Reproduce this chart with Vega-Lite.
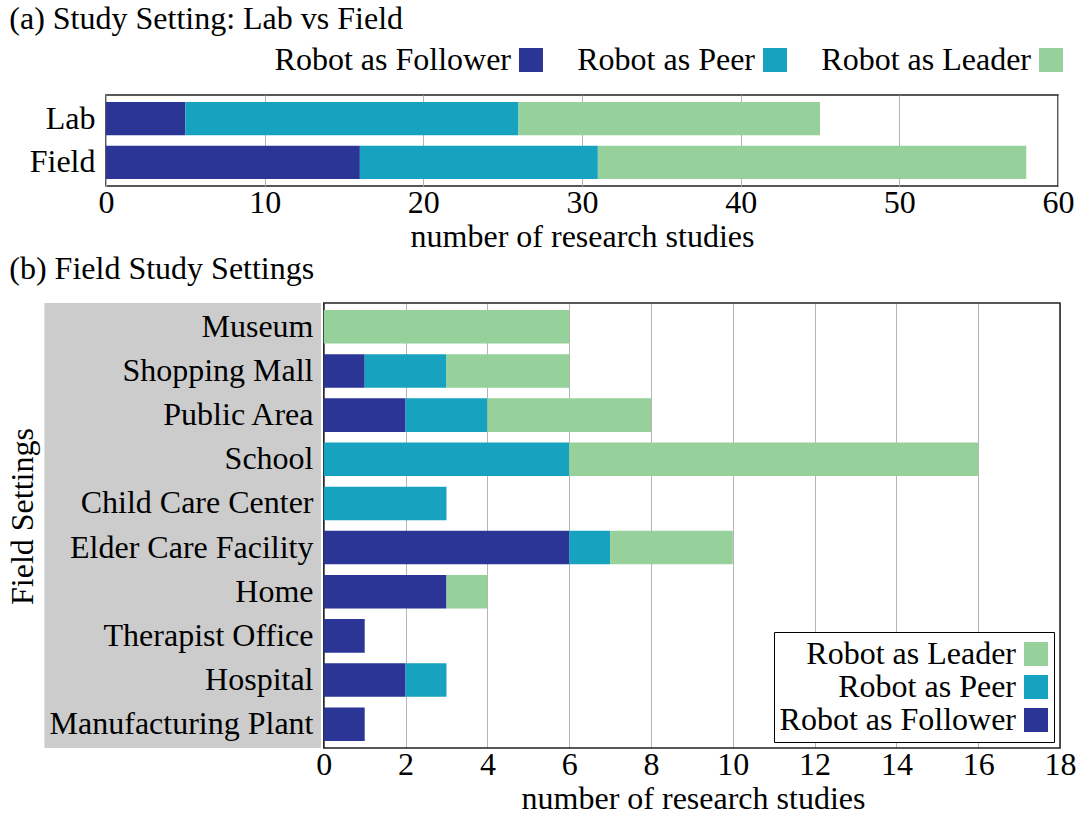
{
  "$schema": "https://vega.github.io/schema/vega-lite/v6.json",
  "background": "white",
  "padding": {"left": 6, "top": 2, "right": 0, "bottom": 0},
  "datasets": {
    "lab": [
      {"setting": "Lab", "role": "Robot as Follower", "n": 5, "k": 1},
      {"setting": "Lab", "role": "Robot as Peer", "n": 21, "k": 2},
      {"setting": "Lab", "role": "Robot as Leader", "n": 19, "k": 3},
      {"setting": "Field", "role": "Robot as Follower", "n": 16, "k": 1},
      {"setting": "Field", "role": "Robot as Peer", "n": 15, "k": 2},
      {"setting": "Field", "role": "Robot as Leader", "n": 27, "k": 3}
    ],
    "field": [
      {"place": "Museum", "role": "Robot as Leader", "n": 6, "k": 3},
      {"place": "Shopping Mall", "role": "Robot as Follower", "n": 1, "k": 1},
      {"place": "Shopping Mall", "role": "Robot as Peer", "n": 2, "k": 2},
      {"place": "Shopping Mall", "role": "Robot as Leader", "n": 3, "k": 3},
      {"place": "Public Area", "role": "Robot as Follower", "n": 2, "k": 1},
      {"place": "Public Area", "role": "Robot as Peer", "n": 2, "k": 2},
      {"place": "Public Area", "role": "Robot as Leader", "n": 4, "k": 3},
      {"place": "School", "role": "Robot as Peer", "n": 6, "k": 2},
      {"place": "School", "role": "Robot as Leader", "n": 10, "k": 3},
      {"place": "Child Care Center", "role": "Robot as Peer", "n": 3, "k": 2},
      {"place": "Elder Care Facility", "role": "Robot as Follower", "n": 6, "k": 1},
      {"place": "Elder Care Facility", "role": "Robot as Peer", "n": 1, "k": 2},
      {"place": "Elder Care Facility", "role": "Robot as Leader", "n": 3, "k": 3},
      {"place": "Home", "role": "Robot as Follower", "n": 3, "k": 1},
      {"place": "Home", "role": "Robot as Leader", "n": 1, "k": 3},
      {"place": "Therapist Office", "role": "Robot as Follower", "n": 1, "k": 1},
      {"place": "Hospital", "role": "Robot as Follower", "n": 2, "k": 1},
      {"place": "Hospital", "role": "Robot as Peer", "n": 1, "k": 2},
      {"place": "Manufacturing Plant", "role": "Robot as Follower", "n": 1, "k": 1}
    ]
  },
  "config": {
    "font": "Liberation Serif",
    "view": {"stroke": "#222222", "strokeWidth": 1.5},
    "axis": {
      "labelFont": "Liberation Serif", "labelFontSize": 32, "labelColor": "black",
      "titleFont": "Liberation Serif", "titleFontSize": 32, "titleFontWeight": "normal", "titleColor": "black",
      "ticks": false, "domain": false, "labelLimit": 600
    },
    "legend": {
      "labelFont": "Liberation Serif", "labelFontSize": 32, "labelColor": "black", "labelLimit": 600
    },
    "title": {"font": "Liberation Serif", "fontSize": 32, "fontWeight": "normal", "color": "black", "anchor": "start", "frame": "group"}
  },
  "spacing": 0,
  "resolve": {"scale": {"color": "independent", "x": "independent", "y": "independent"}, "legend": {"color": "independent"}},
  "vconcat": [
    {
      "width": 952,
      "height": 91,
      "title": {"text": "(a) Study Setting: Lab vs Field", "dx": -96.7, "offset": 8},
      "data": {"name": "lab"},
      "mark": {"type": "bar"},
      "encoding": {
        "y": {"field": "setting", "type": "nominal", "sort": ["Lab", "Field"],
              "scale": {"paddingInner": 0.24, "paddingOuter": 0.16},
              "axis": {"title": null, "labelPadding": 11, "zindex": 1}},
        "x": {"field": "n", "type": "quantitative", "stack": "zero",
              "scale": {"domain": [0, 60], "nice": false},
              "axis": {"values": [0, 10, 20, 30, 40, 50, 60], "grid": true, "gridColor": "#b5b5b5", "gridWidth": 1,
                       "labelFlush": false, "labelOverlap": false, "labelPadding": 1,
                       "title": "number of research studies", "titlePadding": 3}},
        "color": {"field": "role", "type": "nominal",
                  "scale": {"domain": ["Robot as Follower", "Robot as Peer", "Robot as Leader"], "range": ["#2b3595", "#17a3c0", "#96d09a"]},
                  "legend": {"orient": "none", "direction": "horizontal", "legendX": 409, "legendY": -51, "title": null,
                             "labelAlign": "right", "labelOffset": -36, "columnPadding": 34, "symbolType": "square",
                             "symbolSize": 576, "symbolStrokeWidth": 0, "padding": 0}},
        "order": {"field": "k", "type": "quantitative"}
      }
    },
    {
      "width": 954,
      "height": 445,
      "view": {"stroke": null},
      "title": {"text": "(b) Field Study Settings", "dx": -96.7, "offset": 16},
      "layer": [
        {
          "data": {"values": [{}]},
          "mark": {"type": "rect", "color": "#cccccc"},
          "encoding": {
            "x": {"datum": -6.83, "type": "quantitative"},
            "x2": {"datum": -0.07}
          }
        },
        {
          "data": {"values": [{}]},
          "mark": {"type": "rect", "fillOpacity": 0, "stroke": "#222222", "strokeWidth": 1.5},
          "encoding": {
            "x": {"datum": 0, "type": "quantitative"},
            "x2": {"datum": 18}
          }
        },
        {
          "data": {"name": "field"},
          "mark": {"type": "bar"},
          "encoding": {
            "y": {"field": "place", "type": "nominal",
                  "sort": ["Museum", "Shopping Mall", "Public Area", "School", "Child Care Center", "Elder Care Facility", "Home", "Therapist Office", "Hospital", "Manufacturing Plant"],
                  "scale": {"paddingInner": 0.24, "paddingOuter": 0.16},
                  "axis": {"title": "Field Settings", "labelPadding": -207, "titleX": -67, "titleY": 213, "zindex": 1}},
            "x": {"field": "n", "type": "quantitative", "stack": "zero",
                  "scale": {"domain": [-5.325, 18], "nice": false, "zero": false},
                  "axis": {"values": [0, 2, 4, 6, 8, 10, 12, 14, 16, 18], "grid": true, "gridColor": "#b5b5b5", "gridWidth": 1,
                           "labelFlush": false, "labelOverlap": false, "labelPadding": 1,
                           "title": "number of research studies", "titlePadding": 3, "titleX": 587}},
            "color": {"field": "role", "type": "nominal",
                      "scale": {"domain": ["Robot as Leader", "Robot as Peer", "Robot as Follower"], "range": ["#96d09a", "#17a3c0", "#2b3595"]},
                      "legend": {"orient": "bottom-right", "offset": 6, "direction": "vertical", "title": null,
                                 "labelAlign": "right", "labelOffset": -36, "symbolOffset": 240, "rowPadding": 1, "symbolType": "square",
                                 "symbolSize": 576, "symbolStrokeWidth": 0, "padding": 6,
                                 "strokeColor": "black", "fillColor": "white"}},
            "order": {"field": "k", "type": "quantitative"}
          }
        }
      ]
    }
  ]
}
